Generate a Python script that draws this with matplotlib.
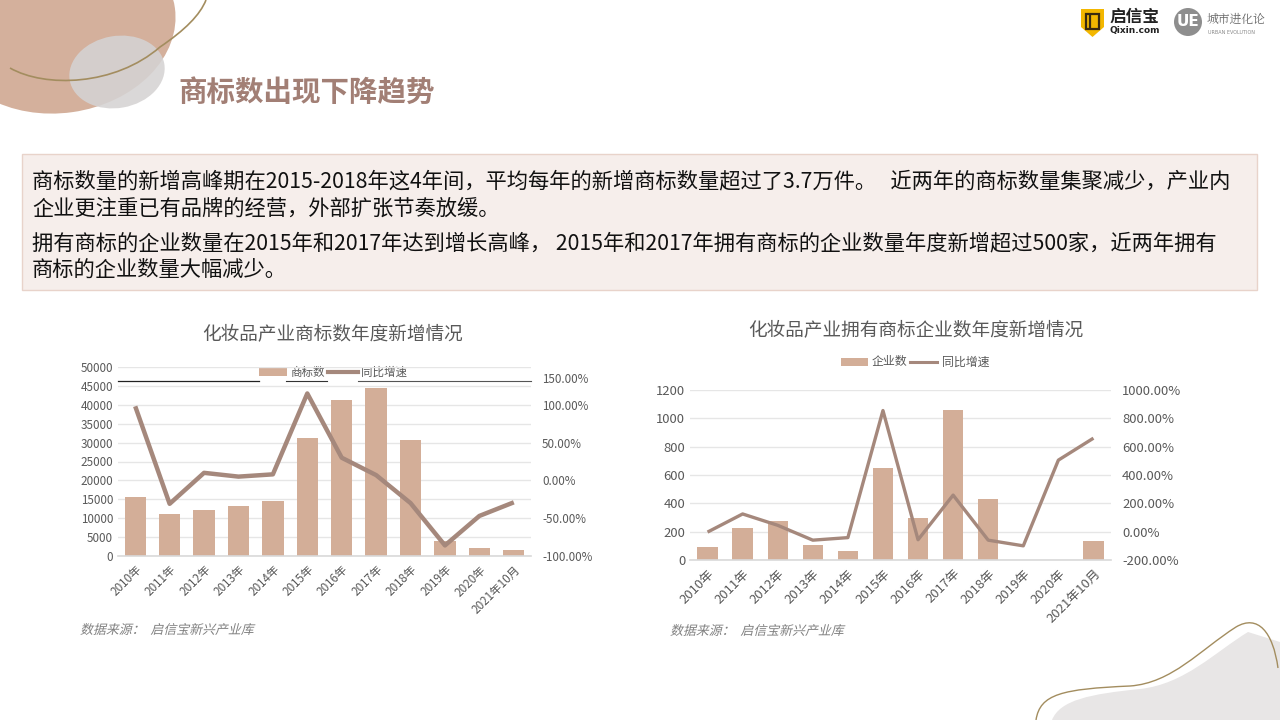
import matplotlib
matplotlib.use("Agg")
import matplotlib.pyplot as plt
from matplotlib.patches import Ellipse, PathPatch, Polygon, Circle, Rectangle
from matplotlib.path import Path
from matplotlib.textpath import TextPath
from matplotlib.font_manager import FontProperties
from matplotlib.transforms import Affine2D, ScaledTranslation
from matplotlib.ticker import FuncFormatter

plt.rcParams['font.family'] = ['Noto Sans CJK SC', 'DejaVu Sans']

# ---- data ------------------------------------------------------------------
years = ['2010年', '2011年', '2012年', '2013年', '2014年', '2015年',
         '2016年', '2017年', '2018年', '2019年', '2020年', '2021年10月']
tm_count = [15600, 11100, 12200, 13200, 14600, 31300,
            41200, 44400, 30800, 4100, 2200, 1500]
tm_growth = [98, -31, 10, 5, 8, 115, 30, 7, -30, -86, -47, -29]
ent_count = [95, 223, 273, 109, 62, 651, 295, 1058, 430, 0, 0, 131]
ent_growth = [-3, 125, 45, -60, -42, 855, -57, 258, -60, -100, 505, 660]

header = '商标数出现下降趋势'
para_lines = [
    '商标数量的新增高峰期在2015-2018年这4年间，平均每年的新增商标数量超过了3.7万件。   近两年的商标数量集聚减少，产业内',
    '企业更注重已有品牌的经营，外部扩张节奏放缓。',
    '拥有商标的企业数量在2015年和2017年达到增长高峰， 2015年和2017年拥有商标的企业数量年度新增超过500家，近两年拥有',
    '商标的企业数量大幅减少。',
]
title_l = '化妆品产业商标数年度新增情况'
title_r = '化妆品产业拥有商标企业数年度新增情况'
source = '数据来源：  启信宝新兴产业库'

BAR = '#d3ae98'
LINE = '#a5887c'
TICK = '#595959'
GRID = '#e6e6e6'

W, H = 1280, 720
fig = plt.figure(figsize=(12.8, 7.2), dpi=100)
fig.patch.set_facecolor('white')


def px_axes(x0, y0, x1, y1, **kw):
    """Axes from pixel box (top-left origin)."""
    return fig.add_axes([x0 / W, 1 - y1 / H, (x1 - x0) / W, (y1 - y0) / H], **kw)


# ---- background / decorations ----------------------------------------------
bg = fig.add_axes([0, 0, 1, 1], zorder=0)
bg.set_xlim(0, W); bg.set_ylim(H, 0); bg.axis('off')

bg.add_patch(Ellipse((60, 24), 232, 178, angle=-8, color='#d4b09c', lw=0))
bg.add_patch(Ellipse((117, 72), 96, 72, angle=-10, color='#d5d3d3', alpha=0.88, lw=0))
curve = Path([(10, 68), (45, 88), (115, 86), (160, 47), (185, 30), (200, 15), (206, 0)],
             [Path.MOVETO, Path.CURVE4, Path.CURVE4, Path.CURVE4,
              Path.CURVE4, Path.CURVE4, Path.CURVE4])
bg.add_patch(PathPatch(curve, fill=False, ec='#a38d5f', lw=1.2))

blob = Path([(1052, 720), (1060, 700), (1090, 694), (1140, 689),
             (1185, 684), (1215, 652), (1248, 632), (1280, 642), (1280, 720), (1052, 720)],
            [Path.MOVETO, Path.CURVE4, Path.CURVE4, Path.CURVE4,
             Path.CURVE4, Path.CURVE4, Path.CURVE4, Path.LINETO, Path.LINETO, Path.CLOSEPOLY])
bg.add_patch(PathPatch(blob, fc='#e8e6e6', ec='none'))
curve2 = Path([(1036, 720), (1040, 694), (1062, 689), (1130, 686),
               (1172, 683), (1200, 650), (1236, 627), (1258, 614), (1273, 632), (1278, 668)],
              [Path.MOVETO, Path.CURVE4, Path.CURVE4, Path.CURVE4,
               Path.CURVE4, Path.CURVE4, Path.CURVE4,
               Path.CURVE4, Path.CURVE4, Path.CURVE4])
bg.add_patch(PathPatch(curve2, fill=False, ec='#a38d5f', lw=1.0))

# logos
bg.add_patch(Polygon([(1081, 9), (1104, 9), (1104, 27), (1092.5, 37), (1081, 27)],
                     closed=True, fc='#f3b700', ec='none'))
bg.add_patch(Rectangle((1086, 14), 13, 15, fill=False, ec='#3a2a10', lw=1.6))
bg.plot([1090, 1090], [16, 27], color='#3a2a10', lw=1.6)
bg.text(1109, 17, '启信宝', fontsize=12, fontweight='bold', color='#222222',
        ha='left', va='center')
bg.text(1110, 31, 'Qixin.com', fontsize=6.5, fontweight='bold', color='#222222',
        ha='left', va='center', family='DejaVu Sans')
bg.add_patch(Circle((1188, 22), 14, fc='#8e8e8e', ec='none'))
bg.text(1188, 22, 'UE', fontsize=11, fontweight='bold', color='white',
        ha='center', va='center', family='DejaVu Sans')
bg.text(1207, 20, '城市进化论', fontsize=8.5, color='#666666', ha='left', va='center',
        family=['Noto Serif CJK SC', 'Noto Sans CJK SC'])
bg.text(1208, 33, 'URBAN EVOLUTION', fontsize=3.5, color='#888888', ha='left',
        va='center', family='DejaVu Sans')

bg.text(178, 93, header, fontsize=20.5, fontweight='bold', color='#a27f75',
        ha='left', va='center')

# text box
bg.add_patch(Rectangle((22, 154), 1235, 136, fc='#f6eeeb', ec='#e8d3ca', lw=1))
for y, line in zip([181, 209, 243, 270], para_lines):
    bg.text(32, y, line, fontsize=15.3, color='#111111', ha='left', va='center')

# chart titles
bg.text(333, 334, title_l, fontsize=13.4, color=TICK, ha='center', va='center')
bg.text(916, 330, title_r, fontsize=13.4, color=TICK, ha='center', va='center')


def slanted_text(x, y, s, size_pt, color):
    # italic look for CJK text (no italic face installed): skewed text path
    tp = TextPath((0, 0), s, size=size_pt, prop=FontProperties(family='Noto Sans CJK SC'))
    k = 100 / 72
    tr = Affine2D().skew_deg(14, 0).scale(k, -k).translate(x, y + size_pt * k * 0.38)
    bg.add_patch(PathPatch(tr.transform_path(tp), fc=color, ec='none'))


slanted_text(80, 629, source, 9.3, '#808080')
slanted_text(670, 630, source, 9.3, '#808080')

# legend underline artefacts of the left chart
bg.plot([118, 259], [381, 381], color='#222222', lw=0.9)
bg.plot([286, 327], [381, 381], color='#333333', lw=0.8)
bg.plot([358, 531], [381, 381], color='#555555', lw=0.8)

pct = FuncFormatter(lambda v, _: f'{v:.2f}%')


def draw_chart(ax, counts, growth, ylim, yticks, ylim2, yticks2, width, lw, fs):
    x = list(range(len(years)))
    ax.set_facecolor('none')
    ax.bar(x, counts, width=width, color=BAR, zorder=2)
    ax.set_xlim(-0.5, len(years) - 0.5)
    ax.set_ylim(*ylim)
    ax.set_yticks(yticks)
    ax.set_xticks(x)
    ax.set_xticklabels(years, rotation=45, ha='right', rotation_mode='anchor')
    ax.tick_params(axis='both', length=0, labelsize=fs, labelcolor=TICK)
    ax.tick_params(axis='x', pad=5)
    ax.grid(axis='y', color=GRID, lw=1, zorder=0)
    ax.set_axisbelow(True)
    for s in ['top', 'right', 'left']:
        ax.spines[s].set_visible(False)
    ax.spines['bottom'].set_color('#d9d9d9')
    ax.spines['bottom'].set_linewidth(1.2)

    ax2 = ax.twinx()
    ax2.plot(x, growth, color=LINE, lw=lw, zorder=3, solid_capstyle='butt')
    ax2.set_ylim(*ylim2)
    ax2.set_yticks(yticks2)
    ax2.yaxis.set_major_formatter(pct)
    ax2.tick_params(axis='y', length=0, labelsize=fs, labelcolor=TICK, pad=8)
    for s in ax2.spines.values():
        s.set_visible(False)
    return ax2


# left chart
axl = px_axes(118, 367, 531, 556, zorder=2)
axl2 = draw_chart(axl, tm_count, tm_growth, (0, 50000), range(0, 50001, 5000),
                  (-100, 150), range(-100, 151, 50), 0.62, 3.2, 8.4)
# top percent label sits a little lower in the original (pushed by the legend)
top_lbl = axl2.yaxis.get_major_ticks()[-1].label2
top_lbl.set_transform(top_lbl.get_transform() +
                      ScaledTranslation(0, -0.11, fig.dpi_scale_trans))

# right chart
axr = px_axes(690, 390, 1111, 560, zorder=2)
draw_chart(axr, ent_count, ent_growth, (0, 1200), range(0, 1201, 200),
           (-200, 1000), range(-200, 1001, 200), 0.58, 2.4, 9.4)

# legends (drawn in pixel space of the page)
bg.add_patch(Rectangle((259, 368), 28, 8, fc=BAR, ec='none', zorder=5))
bg.text(290, 372, '商标数', fontsize=8.3, color=TICK, ha='left', va='center')
bg.plot([328, 358], [372, 372], color=LINE, lw=3, zorder=5)
bg.text(361, 372, '同比增速', fontsize=8.3, color=TICK, ha='left', va='center')

bg.add_patch(Rectangle((841, 358), 27, 8, fc=BAR, ec='none', zorder=5))
bg.text(872, 362, '企业数', fontsize=8.6, color=TICK, ha='left', va='center')
bg.plot([910, 937], [362, 362], color=LINE, lw=2.2, zorder=5)
bg.text(942, 362, '同比增速', fontsize=8.6, color=TICK, ha='left', va='center')

fig.savefig('out.png', dpi=100)
